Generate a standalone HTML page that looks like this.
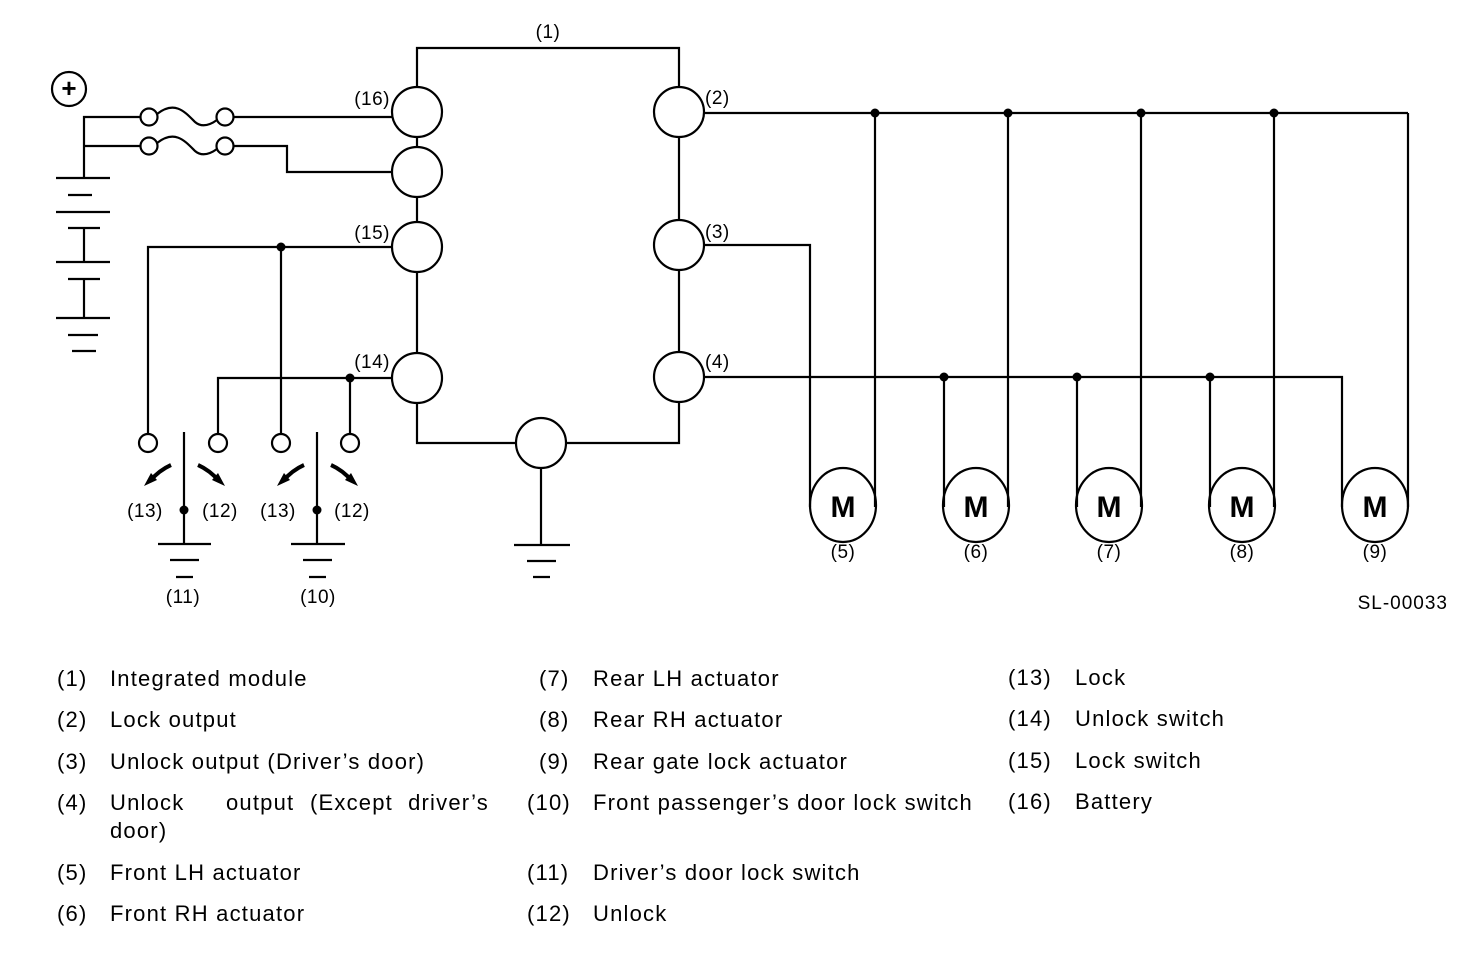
<!DOCTYPE html>
<html><head><style>
body{margin:0;background:#fff;}
svg{display:block;}
text{font-family:"Liberation Sans",Arial,sans-serif;fill:#000;}
</style></head><body>
<svg width="1472" height="954" viewBox="0 0 1472 954" xmlns="http://www.w3.org/2000/svg">
<g stroke="#000" stroke-width="2.2" fill="none">
<polyline points="417,87 417,48 679,48 679,87"/>
<line x1="417" y1="137" x2="417" y2="147"/>
<line x1="417" y1="197" x2="417" y2="222"/>
<line x1="417" y1="272" x2="417" y2="353"/>
<polyline points="417,403 417,443 516,443"/>
<polyline points="566,443 679,443 679,402"/>
<line x1="679" y1="137" x2="679" y2="220"/>
<line x1="679" y1="270" x2="679" y2="352"/>
<circle cx="417" cy="112" r="25"/>
<circle cx="417" cy="172" r="25"/>
<circle cx="417" cy="247" r="25"/>
<circle cx="417" cy="378" r="25"/>
<circle cx="679" cy="112" r="25"/>
<circle cx="679" cy="245" r="25"/>
<circle cx="679" cy="377" r="25"/>
<circle cx="541" cy="443" r="25"/>
<line x1="541" y1="468" x2="541" y2="545"/>
<line x1="514" y1="545" x2="570" y2="545"/>
<line x1="527" y1="561" x2="556" y2="561"/>
<line x1="533" y1="577" x2="550" y2="577"/>
<circle cx="69" cy="89" r="17"/>
<polyline points="84,178 84,117 140,117"/>
<line x1="84" y1="146" x2="140" y2="146"/>
<circle cx="149" cy="117" r="8.5"/><circle cx="225" cy="117" r="8.5"/>
<circle cx="149" cy="146" r="8.5"/><circle cx="225" cy="146" r="8.5"/>
<path d="M157,114 C175,100 185,112 195,122 C202,128 210,125 217,120"/>
<path d="M157,143 C175,129 185,141 195,151 C202,157 210,154 217,149"/>
<line x1="234" y1="117" x2="392" y2="117"/>
<polyline points="234,146 287,146 287,172 392,172"/>
<line x1="56" y1="178" x2="110" y2="178"/>
<line x1="68" y1="195" x2="92" y2="195"/>
<line x1="56" y1="212" x2="110" y2="212"/>
<line x1="68" y1="228" x2="100" y2="228"/>
<line x1="84" y1="228" x2="84" y2="262"/>
<line x1="56" y1="262" x2="110" y2="262"/>
<line x1="68" y1="279" x2="100" y2="279"/>
<line x1="84" y1="279" x2="84" y2="318"/>
<line x1="56" y1="318" x2="110" y2="318"/>
<line x1="68" y1="335" x2="98" y2="335"/>
<line x1="72" y1="351" x2="96" y2="351"/>
<polyline points="148,434 148,247 392,247"/>
<line x1="281" y1="247" x2="281" y2="434"/>
<polyline points="218,434 218,378 392,378"/>
<line x1="350" y1="378" x2="350" y2="434"/>
<circle cx="148" cy="443" r="9"/><circle cx="218" cy="443" r="9"/>
<circle cx="281" cy="443" r="9"/><circle cx="350" cy="443" r="9"/>
<line x1="184" y1="432" x2="184" y2="544"/>
<line x1="158" y1="544" x2="211" y2="544"/>
<line x1="170" y1="560" x2="199" y2="560"/>
<line x1="176" y1="577" x2="193" y2="577"/>
<line x1="317" y1="432" x2="317" y2="544"/>
<line x1="291" y1="544" x2="345" y2="544"/>
<line x1="303" y1="560" x2="332" y2="560"/>
<line x1="309" y1="577" x2="326" y2="577"/>
<g stroke-width="4">
<path d="M171,465 C162,469 156,474 150,481"/>
<path d="M198,465 C207,469 213,474 219,481"/>
<path d="M304,465 C295,469 289,474 283,481"/>
<path d="M331,465 C340,469 346,474 352,481"/>
</g>
<line x1="704" y1="113" x2="1408" y2="113"/>
<line x1="1408" y1="113" x2="1408" y2="507"/>
<line x1="875" y1="113" x2="875" y2="507"/>
<line x1="1008" y1="113" x2="1008" y2="507"/>
<line x1="1141" y1="113" x2="1141" y2="507"/>
<line x1="1274" y1="113" x2="1274" y2="507"/>
<polyline points="704,245 810,245 810,507"/>
<polyline points="704,377 1342,377 1342,507"/>
<line x1="944" y1="377" x2="944" y2="507"/>
<line x1="1077" y1="377" x2="1077" y2="507"/>
<line x1="1210" y1="377" x2="1210" y2="507"/>
<ellipse cx="843" cy="505" rx="33" ry="37"/>
<ellipse cx="976" cy="505" rx="33" ry="37"/>
<ellipse cx="1109" cy="505" rx="33" ry="37"/>
<ellipse cx="1242" cy="505" rx="33" ry="37"/>
<ellipse cx="1375" cy="505" rx="33" ry="37"/>
</g>
<g fill="#000">
<path d="M144,486 L151,473 L157,480 Z"/>
<path d="M225,486 L218,473 L212,480 Z"/>
<path d="M277,486 L284,473 L290,480 Z"/>
<path d="M358,486 L351,473 L345,480 Z"/>
<circle cx="281" cy="247" r="4.5"/><circle cx="350" cy="378" r="4.5"/>
<circle cx="184" cy="510" r="4.5"/><circle cx="317" cy="510" r="4.5"/>
<circle cx="875" cy="113" r="4.5"/><circle cx="1008" cy="113" r="4.5"/>
<circle cx="1141" cy="113" r="4.5"/><circle cx="1274" cy="113" r="4.5"/>
<circle cx="944" cy="377" r="4.5"/><circle cx="1077" cy="377" r="4.5"/>
<circle cx="1210" cy="377" r="4.5"/>
</g>
<text x="69" y="97" font-size="26" text-anchor="middle" font-weight="bold">+</text>
<g font-size="19" letter-spacing="0.5">
<text x="548" y="38" text-anchor="middle">(1)</text>
<text x="705" y="104">(2)</text>
<text x="705" y="238">(3)</text>
<text x="705" y="368">(4)</text>
<text x="390" y="105" text-anchor="end">(16)</text>
<text x="390" y="239" text-anchor="end">(15)</text>
<text x="390" y="368" text-anchor="end">(14)</text>
<text x="145" y="517" text-anchor="middle">(13)</text>
<text x="220" y="517" text-anchor="middle">(12)</text>
<text x="278" y="517" text-anchor="middle">(13)</text>
<text x="352" y="517" text-anchor="middle">(12)</text>
<text x="183" y="603" text-anchor="middle">(11)</text>
<text x="318" y="603" text-anchor="middle">(10)</text>
<text x="843" y="558" text-anchor="middle">(5)</text>
<text x="976" y="558" text-anchor="middle">(6)</text>
<text x="1109" y="558" text-anchor="middle">(7)</text>
<text x="1242" y="558" text-anchor="middle">(8)</text>
<text x="1375" y="558" text-anchor="middle">(9)</text>
<text x="1448" y="609" text-anchor="end" letter-spacing="1">SL-00033</text>
</g>
<g font-size="30" font-weight="bold" text-anchor="middle">
<text x="843" y="517">M</text><text x="976" y="517">M</text><text x="1109" y="517">M</text>
<text x="1242" y="517">M</text><text x="1375" y="517">M</text>
</g>
<g font-size="22" letter-spacing="1.2">
<text x="57" y="686">(1)</text><text x="110" y="686">Integrated module</text>
<text x="57" y="727">(2)</text><text x="110" y="727">Lock output</text>
<text x="57" y="769">(3)</text><text x="110" y="769">Unlock output (Driver’s door)</text>
<text x="57" y="810">(4)</text><text x="110" y="810">Unlock</text><text x="226" y="810">output</text><text x="310" y="810">(Except</text><text x="489" y="810" text-anchor="end">driver’s</text>
<text x="110" y="838">door)</text>
<text x="57" y="880">(5)</text><text x="110" y="880">Front LH actuator</text>
<text x="57" y="921">(6)</text><text x="110" y="921">Front RH actuator</text>
<text x="539" y="686">(7)</text><text x="593" y="686">Rear LH actuator</text>
<text x="539" y="727">(8)</text><text x="593" y="727">Rear RH actuator</text>
<text x="539" y="769">(9)</text><text x="593" y="769">Rear gate lock actuator</text>
<text x="527" y="810">(10)</text><text x="593" y="810">Front passenger’s door lock switch</text>
<text x="527" y="880">(11)</text><text x="593" y="880">Driver’s door lock switch</text>
<text x="527" y="921">(12)</text><text x="593" y="921">Unlock</text>
<text x="1008" y="685">(13)</text><text x="1075" y="685">Lock</text>
<text x="1008" y="726">(14)</text><text x="1075" y="726">Unlock switch</text>
<text x="1008" y="768">(15)</text><text x="1075" y="768">Lock switch</text>
<text x="1008" y="809">(16)</text><text x="1075" y="809">Battery</text>
</g>
</svg>
</body></html>
